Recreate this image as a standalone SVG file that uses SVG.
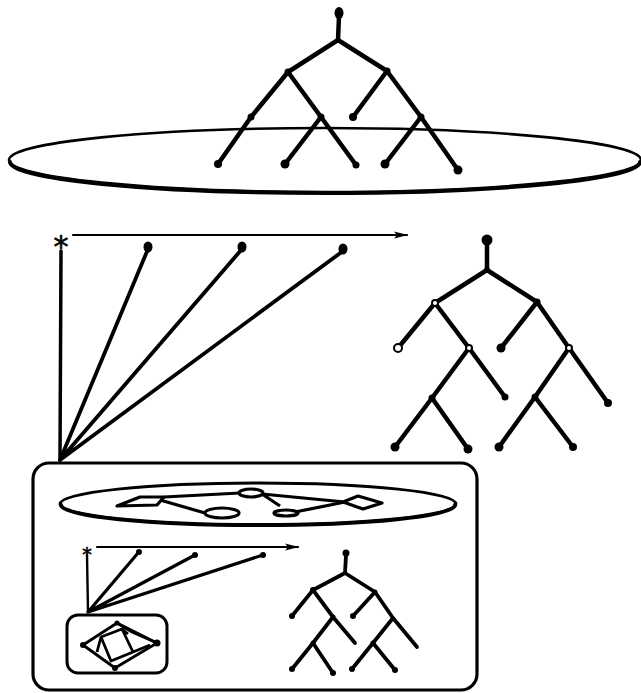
<svg xmlns="http://www.w3.org/2000/svg" width="641" height="693" viewBox="0 0 641 693">
<style>
.e{stroke:#000;stroke-linecap:round;fill:none}
.t{stroke-width:4.5}
.ts{stroke-width:3.8}
.d{fill:#000}
.o{fill:#fff;stroke:#000;stroke-width:2}
.thin{stroke-width:2.2}
.star{font-family:"DejaVu Sans",sans-serif;fill:#000;stroke:#000;stroke-width:0.6}
</style>
<defs>
<marker id="ah" viewBox="0 0 14 8" refX="13" refY="4" markerWidth="14" markerHeight="8" markerUnits="userSpaceOnUse" orient="auto">
<path d="M0,0.5 L14,4 L0,7.5 L3,4 Z" fill="#000"/>
</marker>
</defs>
<rect width="641" height="693" fill="#fff"/>

<!-- top disk -->
<g id="top-disk">
<ellipse class="e" cx="325" cy="160" rx="316" ry="32" stroke-width="2.6"/>
<path class="e" d="M10,162 A315 31 0 0 0 640,162" stroke-width="4" stroke="#222"/>
</g>

<!-- top tree -->
<g id="top-tree">
<path class="e t" d="M339,16 L338,40 M338,40 L288,72 M338,40 L387,71 M288,72 L251,117 M288,72 L321,117 M387,71 L353,117 M387,71 L421,117 M251,117 L218,164 M321,117 L285,164 M321,117 L356,165 M421,117 L385,164 M421,117 L458,170"/>
<ellipse class="d" cx="339" cy="13" rx="4.5" ry="6"/>
<circle class="d" cx="288" cy="72" r="3.5"/>
<circle class="d" cx="387" cy="71" r="3.5"/>
<circle class="d" cx="251" cy="117" r="3.5"/>
<circle class="d" cx="321" cy="117" r="3.5"/>
<circle class="d" cx="353" cy="117" r="4"/>
<circle class="d" cx="421" cy="117" r="3.5"/>
<circle class="d" cx="218" cy="164" r="4"/>
<circle class="d" cx="285" cy="164" r="4.5"/>
<circle class="d" cx="356" cy="165" r="3.5"/>
<circle class="d" cx="385" cy="164" r="4.5"/>
<circle class="d" cx="458" cy="170" r="4.5"/>
</g>

<!-- middle fan -->
<g id="star-main">
<text class="star" x="61" y="257" font-size="30" text-anchor="middle">*</text>
</g>
<g id="connectors">
<line class="e thin" x1="73" y1="235" x2="407" y2="235" stroke-linecap="butt" marker-end="url(#ah)"/>
<line class="e" x1="61" y1="251" x2="60" y2="460" stroke-width="3.5"/>
<path class="e" stroke-width="3.8" d="M60,460 L148,249 M60,460 L242,249 M60,460 L343,251"/>
<line class="e thin" x1="97" y1="547" x2="298" y2="547" stroke-linecap="butt" marker-end="url(#ah)"/>
<line class="e" x1="87" y1="555" x2="88" y2="612" stroke-width="2.4"/>
<path class="e" stroke-width="3.2" d="M88,612 L138,553 M88,612 L195,555 M88,612 L263,555"/>
</g>
<g id="fan-ends">
<ellipse class="d" cx="148" cy="247" rx="4.5" ry="5.5"/>
<ellipse class="d" cx="242" cy="247" rx="4.5" ry="5.5"/>
<ellipse class="d" cx="343" cy="249" rx="4.5" ry="5.5"/>
<circle class="d" cx="139" cy="552" r="3"/>
<circle class="d" cx="195" cy="555" r="3"/>
<circle class="d" cx="263" cy="555" r="3"/>
</g>

<!-- right tree -->
<g id="right-tree">
<path class="e t" d="M487,242 L487,270 M487,270 L435,303 M487,270 L537,302 M435,303 L398,348 M435,303 L469,348 M537,302 L501,348 M537,302 L569,348 M469,348 L432,398 M469,348 L505,397 M569,348 L535,397 M569,348 L608,403 M432,398 L395,447 M432,398 L468,449 M535,397 L499,447 M535,397 L573,447"/>
<circle class="d" cx="487" cy="240" r="5.5"/>
<circle class="d" cx="487" cy="270" r="3"/>
<circle class="o" cx="435" cy="303" r="3"/>
<circle class="d" cx="537" cy="302" r="3.5"/>
<circle class="o" cx="398" cy="348" r="4"/>
<circle class="o" cx="469" cy="348" r="3"/>
<circle class="d" cx="501" cy="348" r="4.5"/>
<circle class="o" cx="569" cy="348" r="3"/>
<circle class="d" cx="432" cy="398" r="3.5"/>
<circle class="d" cx="505" cy="397" r="3.5"/>
<circle class="d" cx="535" cy="397" r="3.5"/>
<circle class="d" cx="608" cy="403" r="4"/>
<circle class="d" cx="395" cy="447" r="4.5"/>
<circle class="d" cx="468" cy="449" r="4.5"/>
<circle class="d" cx="499" cy="447" r="4.5"/>
<circle class="d" cx="573" cy="447" r="4"/>
</g>

<!-- outer box -->
<g id="outer-box">
<rect x="33" y="463" width="444" height="227" rx="16" fill="none" stroke="#000" stroke-width="3.2"/>
</g>

<!-- inner disk -->
<g id="inner-disk">
<ellipse class="e" cx="258" cy="504" rx="198" ry="21" stroke-width="2.8"/>
<path class="e" d="M61,505 A197 20 0 0 0 455,505" stroke-width="4"/>
<g stroke="#000" stroke-width="3.2" fill="none" stroke-linejoin="round">
<polygon points="117,506 140,497 164,497 157,505"/>
<path d="M160,500 L205,513 M164,497 L240,493 M262,494 L280,506 M262,494 L345,502 M295,512 L345,502"/>
<ellipse cx="222" cy="513" rx="17" ry="5"/>
<ellipse cx="251" cy="493" rx="12" ry="4"/>
<ellipse cx="286" cy="513" rx="12" ry="3"/>
<polygon points="343,502 358,496 382,503 363,509"/>
</g>
</g>

<!-- inner star -->
<g id="star-inner">
<text class="star" x="87" y="561" font-size="19" text-anchor="middle">*</text>
</g>

<!-- small box -->
<g id="small-box">
<rect x="67" y="615" width="100" height="58" rx="11" fill="none" stroke="#000" stroke-width="3"/>
<g stroke="#000" stroke-width="2.8" fill="none" stroke-linejoin="round">
<polygon points="117,623 83,645 115,668 157,643"/>
<path d="M117,623 L132,632 L157,643 M101,637 L122,629 L133,652 L111,661 Z M101,637 L97,652 M122,629 L128,634 M133,652 L150,645"/>
</g>
<circle class="d" cx="117" cy="623" r="2.5"/>
<circle class="d" cx="83" cy="645" r="3"/>
<circle class="d" cx="115" cy="668" r="3"/>
<circle class="d" cx="157" cy="643" r="3.5"/>
</g>

<!-- bottom tree -->
<g id="bottom-tree">
<path class="e ts" d="M346,555 L345,573 M345,573 L313,590 M345,573 L375,592 M313,590 L292,616 M313,590 L333,617 M375,592 L353,616 M375,592 L393,618 M333,617 L313,643 M333,617 L355,643 M393,618 L373,643 M393,618 L417,647 M313,643 L292,669 M313,643 L333,673 M373,643 L352,669 M373,643 L395,670"/>
<circle class="d" cx="346" cy="553" r="3.5"/>
<circle class="d" cx="313" cy="590" r="3"/>
<circle class="d" cx="375" cy="592" r="2.5"/>
<circle class="d" cx="292" cy="616" r="3"/>
<circle class="d" cx="333" cy="617" r="2.5"/>
<circle class="d" cx="353" cy="616" r="3"/>
<circle class="d" cx="313" cy="643" r="2.5"/>
<circle class="d" cx="373" cy="643" r="2.5"/>
<circle class="d" cx="292" cy="669" r="3"/>
<circle class="d" cx="333" cy="673" r="3"/>
<circle class="d" cx="352" cy="669" r="3"/>
<circle class="d" cx="395" cy="670" r="3"/>
</g>
</svg>
